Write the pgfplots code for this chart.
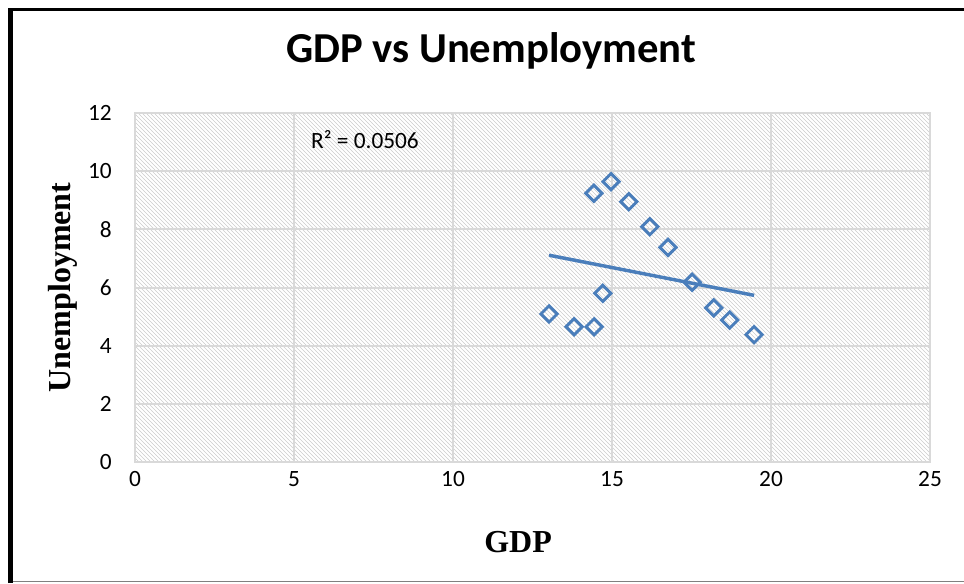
\documentclass[border=0pt]{standalone}
\usepackage{pgfplots}
\pgfplotsset{compat=1.18}
\usepackage{fontspec}
\setmainfont{Carlito}
\newfontfamily\serifb{Liberation Serif}
\usetikzlibrary{patterns}
\definecolor{mblue}{HTML}{4A7EBB}
\definecolor{gridgray}{HTML}{D9D9D9}
\begin{document}
\begin{tikzpicture}
\useasboundingbox (0,0) rectangle (723pt,437.25pt);
\begin{axis}[
  at={(101.25pt,90.75pt)}, anchor=south west,
  width=596.25pt, height=261.75pt, scale only axis,
  xmin=0, xmax=25, ymin=0, ymax=12,
  xtick={0,5,...,25}, ytick={0,2,...,12},
  grid=major, major grid style={gridgray, line width=1.5pt},
  axis line style={gridgray, line width=1.5pt},
  major tick length=0pt,
  axis background/.style={pattern=north west lines, pattern color=black!20},
  /pgf/number format/assume math mode=true,
  tick label style={font=\fontsize{17.5}{21}\selectfont, inner sep=0pt},
  yticklabel style={anchor=east, xshift=-17.25pt},
  xticklabel style={anchor=north, yshift=-6.75pt},
  title={GDP vs Unemployment},
  title style={at={(axis description cs:0.4478,1.1232)}, anchor=base, font=\fontsize{32}{38}\selectfont\bfseries},
  xlabel={GDP}, ylabel={Unemployment},
  xlabel style={at={(axis description cs:0.4818,-0.2579)}, anchor=base, font=\serifb\bfseries\fontsize{24}{28}\selectfont},
  ylabel style={at={(axis description cs:-0.0906,0.5)}, anchor=center, font=\serifb\bfseries\fontsize{24}{28}\selectfont},
  clip=false,
]
\addplot[only marks, mark=square, mark size=4.3pt, mark options={rotate=45, draw=mblue, line width=2.2pt}] coordinates {
(13.02,5.09) (13.81,4.65) (14.44,4.65) (14.71,5.80) (14.43,9.24) (14.97,9.64) (15.53,8.95)
(16.19,8.09) (16.76,7.38) (17.52,6.18) (18.20,5.30) (18.70,4.88) (19.47,4.38)
};
\addplot[mblue, line width=2.6pt] coordinates {(13.02,7.11) (19.47,5.73)};
\node[anchor=west, inner sep=0pt, font=\fontsize{17.5}{21}\selectfont] at (axis cs:5.53,11.07) {R² = 0.0506};
\end{axis}
\draw[line width=2pt] (6pt,430.3pt) -- (723pt,430.3pt);
\draw[line width=3.75pt] (8.1pt,0pt) -- (8.1pt,431.3pt);
\draw[gray, line width=0.9pt] (10pt,1.1pt) -- (723pt,1.1pt);
\end{tikzpicture}
\end{document}
